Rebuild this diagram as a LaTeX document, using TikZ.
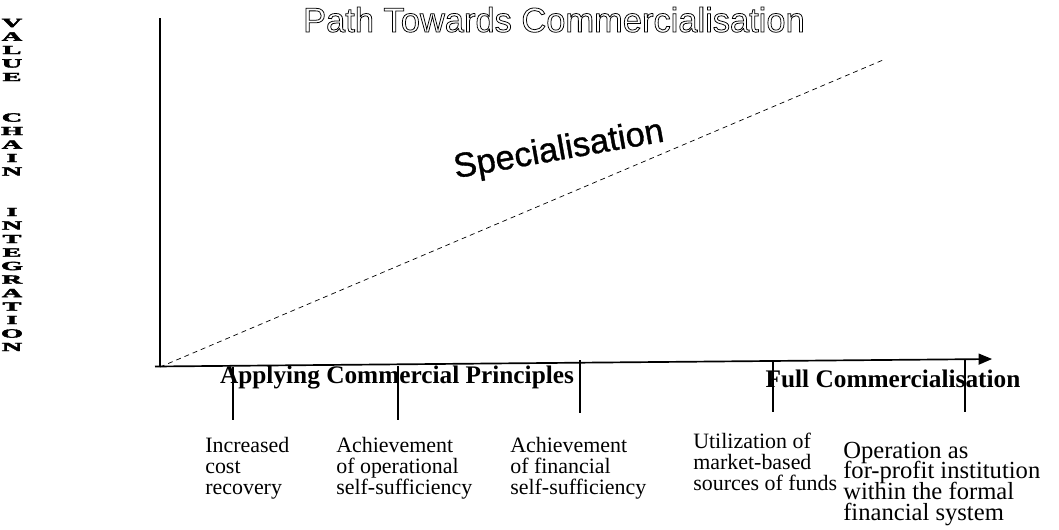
\documentclass[tikz,border=0pt]{standalone}
\usepackage{fontspec}
\setmainfont{Liberation Serif}
\newfontfamily\arialfont{Liberation Sans}
\newfontfamily\arialheavy[FakeBold=1]{Liberation Sans}
\newfontfamily\heavyfont[FakeBold=2.5]{Liberation Serif Bold}
\usetikzlibrary{arrows}
\setlength{\lineskiplimit}{-20pt}
% hollow letters: stroke the glyph outlines only
\newcommand{\hollowtext}[1]{\special{pdf:literal direct 1 Tr}#1\special{pdf:literal direct 0 Tr}}

\begin{document}
\begin{tikzpicture}[x=0.025cm, y=-0.025cm,
    axis/.style={line width=1.2pt},
    tick/.style={line width=1.2pt},
    phase/.style={font=\fontsize{18}{20}\selectfont\bfseries, inner sep=0pt, anchor=base},
    stage/.style={font=\fontsize{15.6}{14.9}\selectfont, align=left, inner sep=0pt, anchor=base west}]
  \useasboundingbox (0,0) rectangle (1059,529);

  % title
  \node[font=\arialfont\fontsize{24.5}{26}\selectfont, line width=0.55pt, inner sep=0pt, anchor=base] (title) at (554,32) {\hollowtext{Path Towards Commercialisation}};

  % vertical axis label
  \foreach \ch [count=\k from 0] in {V,A,L,U,E,{},{},C,H,A,I,N,{},{},I,N,T,E,G,R,A,T,I,O,N}
    \node[inner sep=0pt] (vci\k) at (12, 23+13.5*\k) {\scalebox{1.55}[0.68]{\heavyfont\fontsize{13}{13}\selectfont\ch}};

  % axes
  \coordinate (O) at (160,367);
  \coordinate (ytop) at (160,18);
  \coordinate (xstart) at (155,366.5);
  \coordinate (xend) at (992,359);
  \coordinate (dend) at (883,60);
  \draw[axis] (O) -- (ytop);
  \draw[axis, -triangle 45] (xstart) -- (xend);
  \draw[dash pattern=on 3.5pt off 2.8pt, line width=0.5pt] (O) -- (dend);

  \node[font=\arialheavy\fontsize{24.5}{26}\selectfont, rotate=10, inner sep=0pt] (spec) at (559,151) {Specialisation};

  \node[phase] (acp) at (397,383) {Applying Commercial Principles};
  \node[phase] (fc) at (893,387) {Full Commercialisation};

  % ticks
  \foreach \n/\x/\ya/\yb in {1/233/367/420, 2/398/366/420, 3/580/360/413, 4/773/360/412, 5/965/359/412} {
    \coordinate (t\n a) at (\x,\ya);
    \coordinate (t\n b) at (\x,\yb);
    \draw[tick] (t\n a) -- (t\n b);
  }

  % stages (anchored at the baseline of the last line)
  \node[stage] (inc) at (205,494) {Increased\\cost\\recovery};
  \node[stage] (opr) at (336,494) {Achievement\\of operational\\self-sufficiency};
  \node[stage] (fin) at (510,494) {Achievement\\of financial\\self-sufficiency};
  \node[stage] (mkt) at (693,490) {Utilization of\\market-based\\sources of funds};
  \node[stage, font=\fontsize{17.5}{14.7}\selectfont] (fpi) at (843,520) {Operation as\\for-profit institution\\within the formal\\financial system};
\end{tikzpicture}
\end{document}
